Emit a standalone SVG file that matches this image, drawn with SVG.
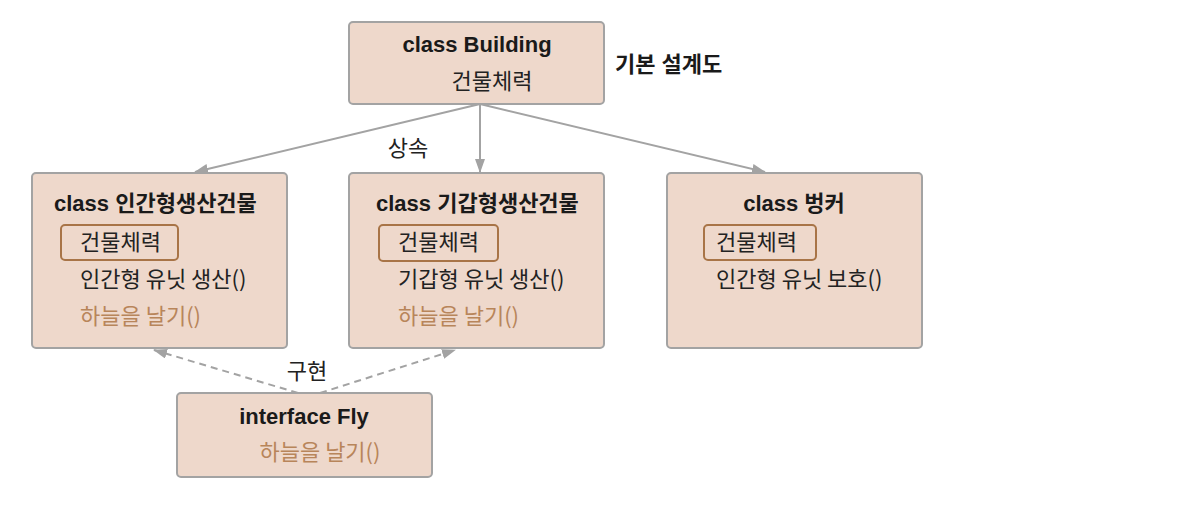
<svg xmlns="http://www.w3.org/2000/svg" width="1192" height="505" viewBox="0 0 1192 505">
<defs>
<style>
.box{fill:#eed8cb;stroke:#a3a3a3;stroke-width:2}
.inner{fill:none;stroke:#a87447;stroke-width:2}
.t{font-family:"Liberation Sans","Noto Sans CJK KR",sans-serif;font-weight:bold;font-size:22px;fill:#1a1a1a}
.b{font-family:"Noto Sans CJK KR","Liberation Sans",sans-serif;font-size:22px;fill:#222}
.br{font-family:"Noto Sans CJK KR","Liberation Sans",sans-serif;font-size:22px;fill:#b8855a}
.conn{stroke:#a3a3a3;stroke-width:2;fill:none}
.dash{stroke:#a3a3a3;stroke-width:2;fill:none;stroke-dasharray:7 5}
</style>
<marker id="ah" markerWidth="14" markerHeight="10" refX="13" refY="5" orient="auto" markerUnits="userSpaceOnUse">
<path d="M0,0 L14,5 L0,10 Z" fill="#a3a3a3"/>
</marker>
</defs>
<g id="connectors">
<line class="conn" x1="480" y1="104" x2="195" y2="172" marker-end="url(#ah)"/>
<line class="conn" x1="480" y1="104" x2="480" y2="172" marker-end="url(#ah)"/>
<line class="conn" x1="480" y1="104" x2="765" y2="172" marker-end="url(#ah)"/>
<line class="dash" x1="298" y1="393" x2="154" y2="350" marker-end="url(#ah)"/>
<line class="dash" x1="320" y1="393" x2="455" y2="350" marker-end="url(#ah)"/>
<text class="b" x="408" y="156" text-anchor="middle">상속</text>
<text class="b" x="307" y="379" text-anchor="middle">구현</text>
</g>
<g id="building">
<rect class="box" x="349" y="22" width="255" height="82" rx="4"/>
<text class="t" x="477" y="52" text-anchor="middle">class Building</text>
<text class="b" x="492" y="89" text-anchor="middle">건물체력</text>
</g>
<g id="label-basic">
<text class="t" x="615" y="72">기본 설계도</text>
</g>
<g id="human">
<rect class="box" x="32" y="173" width="255" height="175" rx="4"/>
<text class="t" x="54" y="211">class 인간형생산건물</text>
<rect class="inner" x="61" y="225" width="117" height="35" rx="4"/>
<text class="b" x="80" y="250">건물체력</text>
<text class="b" x="80" y="287">인간형 유닛 생산()</text>
<text class="br" x="80" y="324">하늘을 날기()</text>
</g>
<g id="mech">
<rect class="box" x="349" y="173" width="255" height="175" rx="4"/>
<text class="t" x="376" y="211">class 기갑형생산건물</text>
<rect class="inner" x="379" y="225" width="119" height="36" rx="4"/>
<text class="b" x="398" y="250">건물체력</text>
<text class="b" x="398" y="287">기갑형 유닛 생산()</text>
<text class="br" x="398" y="324">하늘을 날기()</text>
</g>
<g id="bunker">
<rect class="box" x="667" y="173" width="255" height="175" rx="4"/>
<text class="t" x="794" y="211" text-anchor="middle">class 벙커</text>
<rect class="inner" x="704" y="225" width="112" height="35" rx="4"/>
<text class="b" x="716" y="250">건물체력</text>
<text class="b" x="716" y="287">인간형 유닛 보호()</text>
</g>
<g id="fly">
<rect class="box" x="177" y="393" width="255" height="84" rx="4"/>
<text class="t" x="304" y="424" text-anchor="middle">interface Fly</text>
<text class="br" x="320" y="460" text-anchor="middle">하늘을 날기()</text>
</g>
</svg>
